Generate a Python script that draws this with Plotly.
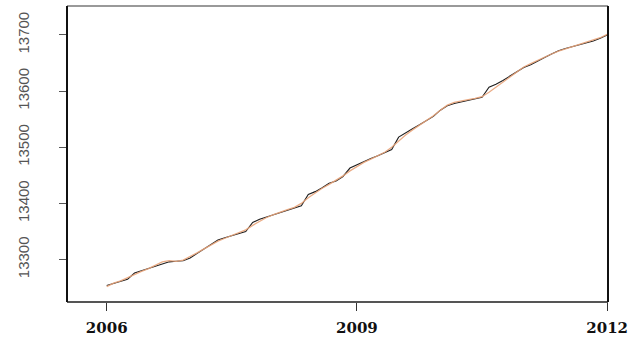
import plotly.graph_objects as go

# Monthly time index, Jan 2006 .. Jan 2012
months = [2006 + i / 12 for i in range(73)]

observed = [
    13254, 13258, 13262, 13265, 13276, 13280, 13285, 13289, 13293, 13296, 13297, 13298,
    13303, 13311, 13318, 13327, 13335, 13339, 13343, 13347, 13350, 13366, 13372, 13376,
    13380, 13384, 13389, 13392, 13396, 13416, 13421, 13428, 13436, 13440, 13448, 13463,
    13469, 13474, 13480, 13485, 13490, 13496, 13518, 13526, 13533, 13540, 13547, 13555,
    13566, 13574, 13578, 13581, 13584, 13587, 13589, 13607, 13612, 13619, 13627, 13634,
    13642, 13647, 13654, 13660, 13666, 13672, 13676, 13679, 13682, 13685, 13689, 13694,
    13700,
]

fitted = [
    13252, 13258, 13262, 13268, 13273, 13279, 13284, 13290, 13296, 13298, 13297, 13299,
    13305, 13312, 13319, 13326, 13333, 13338, 13343, 13348, 13353, 13361, 13368, 13375,
    13380, 13385, 13389, 13393, 13400, 13410, 13419, 13427, 13434, 13441, 13449, 13458,
    13466, 13473, 13479, 13485, 13491, 13500, 13511, 13522, 13531, 13539, 13547, 13556,
    13566, 13575, 13580, 13583, 13585, 13587, 13590, 13598, 13607, 13616, 13625, 13635,
    13643, 13649, 13655, 13661, 13666, 13671, 13675, 13678, 13682, 13686, 13690, 13695,
    13701,
]

x_ticks = [2006, 2009, 2012]
y_ticks = [13300, 13400, 13500, 13600, 13700]

fig = go.Figure()
fig.add_trace(go.Scatter(x=months, y=observed, mode="lines",
                         line=dict(color="#1e1e1e", width=1.1), showlegend=False))
fig.add_trace(go.Scatter(x=months, y=fitted, mode="lines",
                         line=dict(color="#E9A47A", width=1.3), opacity=0.9,
                         showlegend=False))

fig.update_layout(
    width=634, height=343,
    margin=dict(l=67, r=22, t=6, b=30),
    paper_bgcolor="white", plot_bgcolor="white",
    xaxis=dict(range=[2005.524, 2012.01], tickvals=x_ticks,
               ticktext=[str(v) for v in x_ticks],
               showgrid=False, zeroline=False, showline=False,
               ticks="outside", ticklen=8, tickwidth=1.2, tickcolor="#333",
               ticklabelstandoff=4,
               tickfont=dict(family="DejaVu Serif", size=15, color="#111",
                             weight=600)),
    yaxis=dict(range=[13224.5, 13751.5], tickvals=y_ticks,
               ticktext=[str(v) for v in y_ticks],
               showgrid=False, zeroline=False, showline=False,
               ticks="outside", ticklen=7, tickwidth=1, tickcolor="#555",
               tickangle=-90, ticklabelstandoff=24,
               tickfont=dict(family="Liberation Sans Narrow, Liberation Sans",
                             size=15, color="#555")),
    shapes=[
        dict(type="line", xref="paper", yref="paper", x0=0, x1=1, y0=1, y1=1,
             line=dict(color="#777", width=1.5)),
        dict(type="line", xref="paper", yref="paper", x0=0, x1=1, y0=0, y1=0,
             line=dict(color="#555", width=2)),
        dict(type="line", xref="paper", yref="paper", x0=0, x1=0, y0=0, y1=1,
             line=dict(color="#111", width=2)),
        dict(type="line", xref="paper", yref="paper", x0=1, x1=1, y0=0, y1=1,
             line=dict(color="#111", width=2)),
    ],
)

fig.write_html("out.html")
